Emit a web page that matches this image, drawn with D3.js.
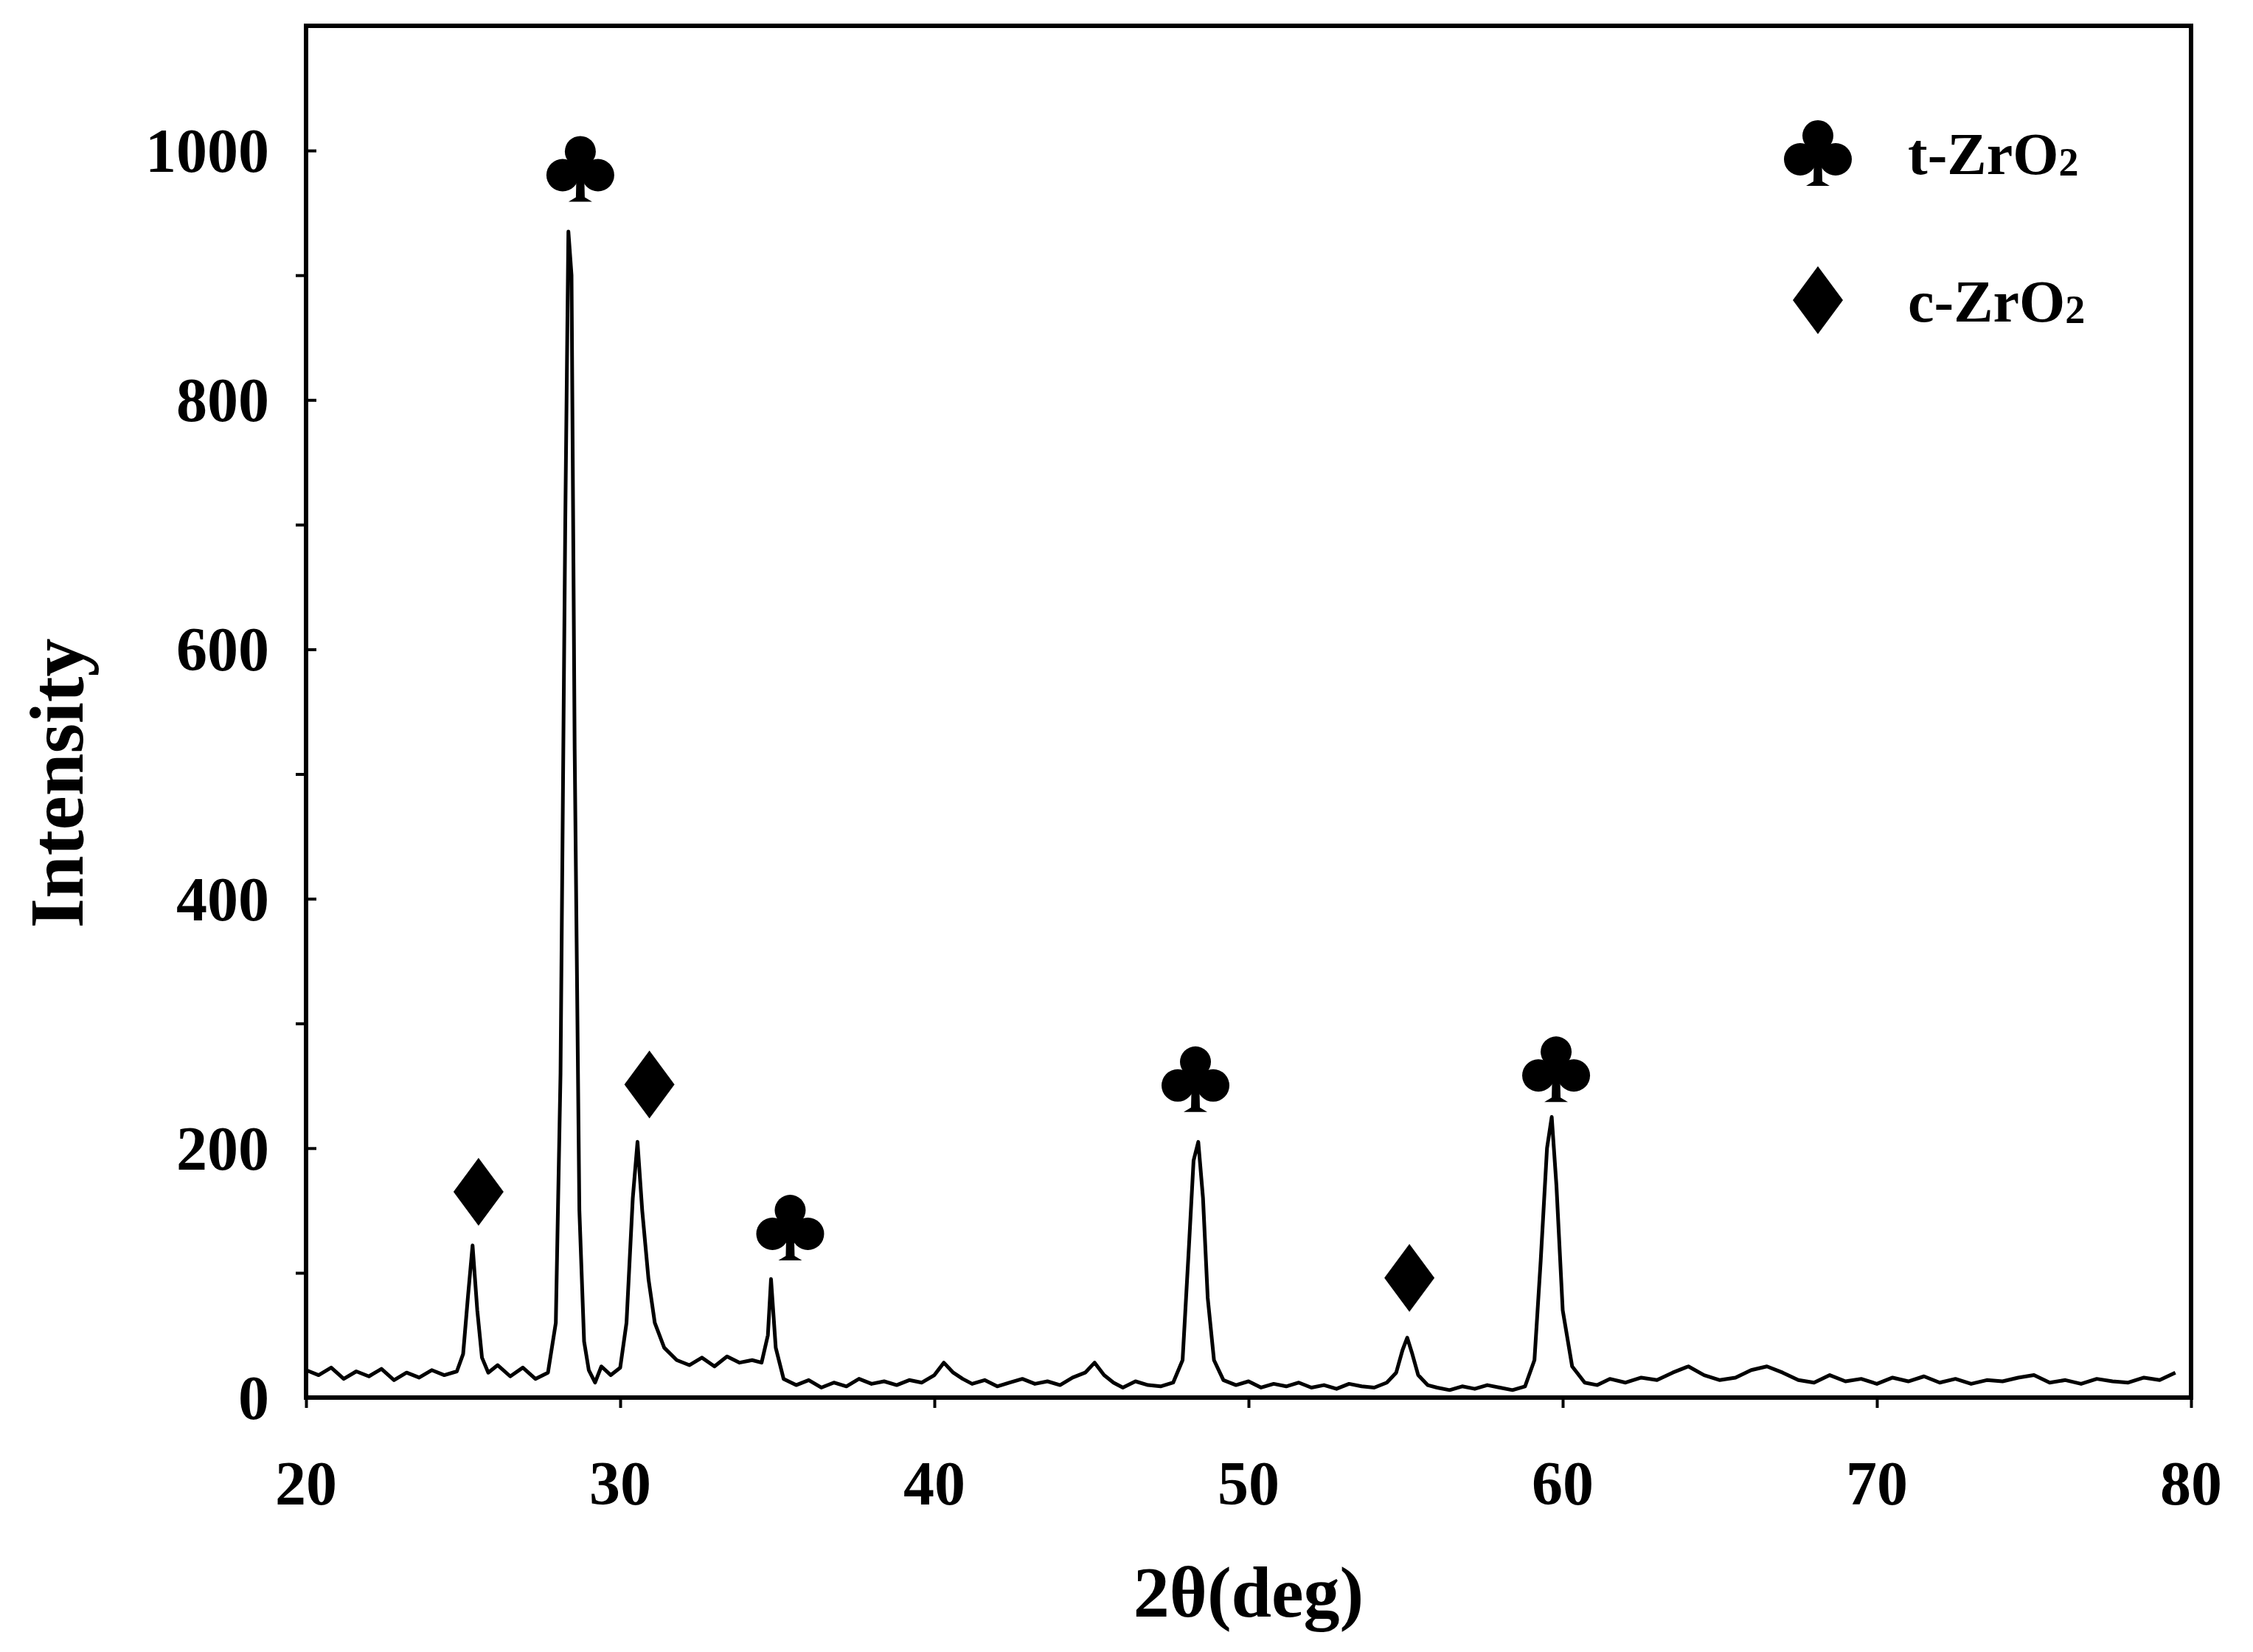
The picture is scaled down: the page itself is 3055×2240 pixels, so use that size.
<!DOCTYPE html>
<html>
<head>
<meta charset="utf-8">
<script src="https://cdn.jsdelivr.net/npm/d3@7"></script>
<style>
  body { margin: 0; background: #fff; }
  text { font-family: "Liberation Serif", "DejaVu Serif", serif; font-weight: bold; }
</style>
</head>
<body>
<script>
// XRD pattern, hand
var twoTheta = [20,20.4,20.8,21.2,21.6,22,22.4,22.8,23.2,23.6,24,24.4,24.8,25.0,25.15,25.3,25.45,25.6,25.8,26.1,26.5,26.9,27.3,27.7,27.95,28.1,28.25,28.35,28.45,28.55,28.7,28.85,29.0,29.2,29.4,29.7,30.0,30.2,30.4,30.55,30.7,30.9,31.1,31.4,31.8,32.2,32.6,33.0,33.4,33.8,34.2,34.5,34.7,34.8,34.95,35.2,35.6,36,36.4,36.8,37.2,37.6,38,38.4,38.8,39.2,39.6,40,40.3,40.6,40.9,41.2,41.6,42,42.4,42.8,43.2,43.6,44,44.4,44.8,45.1,45.4,45.7,46,46.4,46.8,47.2,47.6,47.9,48.1,48.25,48.4,48.55,48.7,48.9,49.2,49.6,50,50.4,50.8,51.2,51.6,52,52.4,52.8,53.2,53.6,54,54.4,54.7,54.9,55.05,55.2,55.4,55.7,56,56.4,56.8,57.2,57.6,58,58.4,58.8,59.1,59.3,59.5,59.65,59.8,60.0,60.3,60.7,61.1,61.5,62,62.5,63,63.5,64,64.5,65,65.5,66,66.5,67,67.5,68,68.5,69,69.5,70,70.5,71,71.5,72,72.5,73,73.5,74,74.5,75,75.5,76,76.5,77,77.5,78,78.5,79,79.5,80];
var intensity = [22,18,24,15,21,17,23,14,20,16,22,18,21,35,80,122,70,32,20,26,17,24,15,20,60,260,700,935,900,520,150,45,22,12,25,18,24,60,160,205,150,95,60,40,30,26,32,25,33,28,30,28,50,95,40,15,10,14,8,12,9,15,11,13,10,14,12,18,28,20,15,11,14,9,12,15,11,13,10,16,20,28,18,12,8,13,10,9,12,30,120,190,205,160,80,30,14,10,13,8,11,9,12,8,10,7,11,9,8,12,20,38,48,36,18,10,8,6,9,7,10,8,6,9,30,110,200,225,170,70,25,12,10,15,12,16,14,20,25,18,14,16,22,25,20,14,12,18,13,15,11,16,13,17,12,15,11,14,13,16,18,12,14,11,15,13,12,16,14,20];

var clubX = [28.73, 35.41, 48.31, 59.79];
var clubY = [985, 136, 255, 263];
var diamondX = [25.49, 30.93, 55.12];
var diamondY = [165, 251, 96];

var xTicks = [20, 30, 40, 50, 60, 70, 80];
var yTicks = [0, 200, 400, 600, 800, 1000];
var yMinor = [100, 300, 500, 700, 900];
var legendLabels = ["t-ZrO", "c-ZrO"];

var W = 3055, H = 2240;
var mLeft = 415, mRight = 2971, mTop = 35, mBottom = 1895;

var svg = d3.select("body").append("svg").attr("width", W).attr("height", H);

var x = d3.scaleLinear().domain([20, 80]).range([mLeft, mRight]);
var y = d3.scaleLinear().domain([0, 1100]).range([mBottom, mTop]);

// ticks
svg.append("g").attr("transform", "translate(0," + mBottom + ")")
  .call(d3.axisBottom(x).tickValues(xTicks).tickSize(14).tickFormat(""))
  .call(function (g) { g.select(".domain").remove(); g.selectAll("line").attr("stroke-width", 4); });
svg.append("g").attr("transform", "translate(" + mLeft + ",0)")
  .call(d3.axisLeft(y).tickValues(yTicks).tickSize(-14).tickFormat(""))
  .call(function (g) { g.select(".domain").remove(); g.selectAll("line").attr("stroke-width", 4); });
svg.append("g").attr("transform", "translate(" + mLeft + ",0)")
  .call(d3.axisLeft(y).tickValues(yMinor).tickSize(14).tickFormat(""))
  .call(function (g) { g.select(".domain").remove(); g.selectAll("line").attr("stroke-width", 4); });

// tick labels
svg.selectAll(".xl").data(xTicks).enter().append("text")
  .attr("x", function (d) { return x(d); }).attr("y", 2040)
  .attr("text-anchor", "middle").attr("font-size", 84).text(function (d) { return d; });
svg.selectAll(".yl").data(yTicks).enter().append("text")
  .attr("x", 365).attr("y", function (d) { return y(d) + 29; })
  .attr("text-anchor", "end").attr("font-size", 84).text(function (d) { return d; });

svg.append("text").attr("x", 1693).attr("y", 2192).attr("text-anchor", "middle")
  .attr("font-size", 98).text("2θ(deg)");
svg.append("text").attr("transform", "translate(112,1062) rotate(-90)")
  .attr("text-anchor", "middle").attr("font-size", 104).text("Intensity");

// pattern
var pts = twoTheta.map(function (d, i) { return [d, intensity[i]]; });
svg.append("path").datum(pts)
  .attr("fill", "none").attr("stroke", "#000").attr("stroke-width", 5).attr("stroke-linejoin", "round")
  .attr("d", d3.line().x(function (d) { return x(d[0]); }).y(function (d) { return y(d[1]); }));

// frame
svg.append("rect").attr("x", mLeft).attr("y", mTop).attr("width", mRight - mLeft).attr("height", mBottom - mTop)
  .attr("fill", "none").attr("stroke", "#000").attr("stroke-width", 6);

function club(g, cx, cy) {
  var c = g.append("g").attr("transform", "translate(" + cx + "," + cy + ")");
  c.append("circle").attr("cx", 0).attr("cy", -24).attr("r", 21);
  c.append("circle").attr("cx", -24).attr("cy", 8).attr("r", 22);
  c.append("circle").attr("cx", 24).attr("cy", 8).attr("r", 22);
  c.append("path").attr("d", "M-5,-5 L5,-5 L6,38 L16,44 L-16,44 L-6,38 Z");
  c.append("rect").attr("x", -12).attr("y", -10).attr("width", 24).attr("height", 22);
}
function diamond(g, cx, cy) {
  g.append("path").attr("transform", "translate(" + cx + "," + cy + ")")
    .attr("d", "M0,-46 L34,0 L0,46 L-34,0 Z");
}

clubX.forEach(function (d, i) { club(svg, x(d), y(clubY[i])); });
diamondX.forEach(function (d, i) { diamond(svg, x(d), y(diamondY[i])); });

// legend
club(svg, 2465, 208);
diamond(svg, 2465, 407);
legendLabels.forEach(function (t, i) {
  var tx = svg.append("text").attr("x", 2587).attr("y", 236 + i * 200).attr("font-size", 80).text(t);
  tx.append("tspan").attr("font-size", 54).attr("dy", 2).text("2");
});
</script>
</body>
</html>
